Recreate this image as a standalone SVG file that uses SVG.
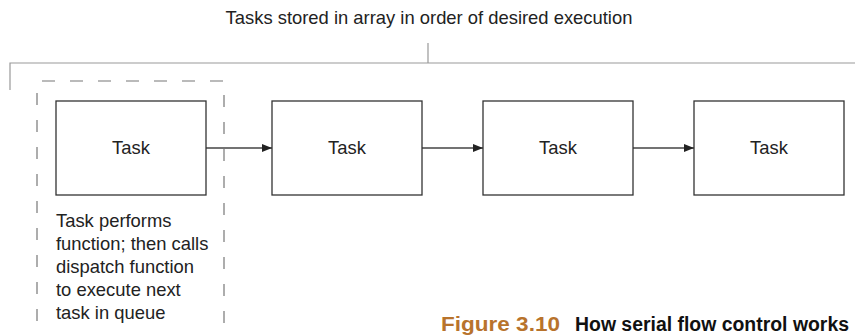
<svg xmlns="http://www.w3.org/2000/svg" width="855" height="336" viewBox="0 0 855 336">
<style>
.t{font-family:"Liberation Sans",Arial,sans-serif;font-size:18.4px;fill:#222}
.box{fill:#fff;stroke:#333;stroke-width:1.3}
.br{fill:none;stroke:#999;stroke-width:1.2}
.dash{fill:none;stroke:#777;stroke-width:1.2;stroke-dasharray:13 15}
.vd{fill:none;stroke:#777;stroke-width:1.2;stroke-dasharray:12 15}
.conn{stroke:#444;stroke-width:1.3;fill:none;marker-end:url(#ah)}
.cap{font-family:"Liberation Sans",Arial,sans-serif;font-size:19.5px;font-weight:bold}
</style>
<defs>
<marker id="ah" markerWidth="10" markerHeight="8" refX="10" refY="4" orient="auto" markerUnits="userSpaceOnUse">
<path d="M0,0 L10,4 L0,8 Z" fill="#222"/>
</marker>
</defs>
<rect width="855" height="336" fill="#fff"/>
<g id="title">
<text class="t" x="429" y="24" text-anchor="middle">Tasks stored in array in order of desired execution</text>
<path class="br" d="M428,43 V63 M10,90 V63 H855"/>
</g>
<g id="group-frame">
<path class="dash" d="M42,81 H224"/>
<path class="vd" d="M37,93 V336"/>
<path class="vd" d="M224,95 V336"/>
</g>
<g id="connectors">
<path class="conn" d="M206,148 H272"/>
<path class="conn" d="M422,148 H483"/>
<path class="conn" d="M633,148 H694"/>
</g>
<g id="task1"><rect class="box" x="56" y="101" width="150" height="94"/><text class="t" x="131" y="154" text-anchor="middle">Task</text></g>
<g id="task2"><rect class="box" x="272" y="101" width="150" height="94"/><text class="t" x="347" y="154" text-anchor="middle">Task</text></g>
<g id="task3"><rect class="box" x="483" y="101" width="150" height="94"/><text class="t" x="558" y="154" text-anchor="middle">Task</text></g>
<g id="task4"><rect class="box" x="694" y="101" width="150" height="94"/><text class="t" x="769" y="154" text-anchor="middle">Task</text></g>
<g id="note">
<text class="t" x="56" y="227">Task performs</text>
<text class="t" x="56" y="250">function; then calls</text>
<text class="t" x="56" y="273">dispatch function</text>
<text class="t" x="56" y="296">to execute next</text>
<text class="t" x="56" y="319">task in queue</text>
</g>
<g id="caption">
<text class="cap" x="441" y="331" fill="#b8732c" textLength="119" lengthAdjust="spacingAndGlyphs">Figure 3.10</text>
<text class="cap" x="575" y="331" fill="#111" textLength="274" lengthAdjust="spacingAndGlyphs">How serial flow control works</text>
</g>
</svg>
